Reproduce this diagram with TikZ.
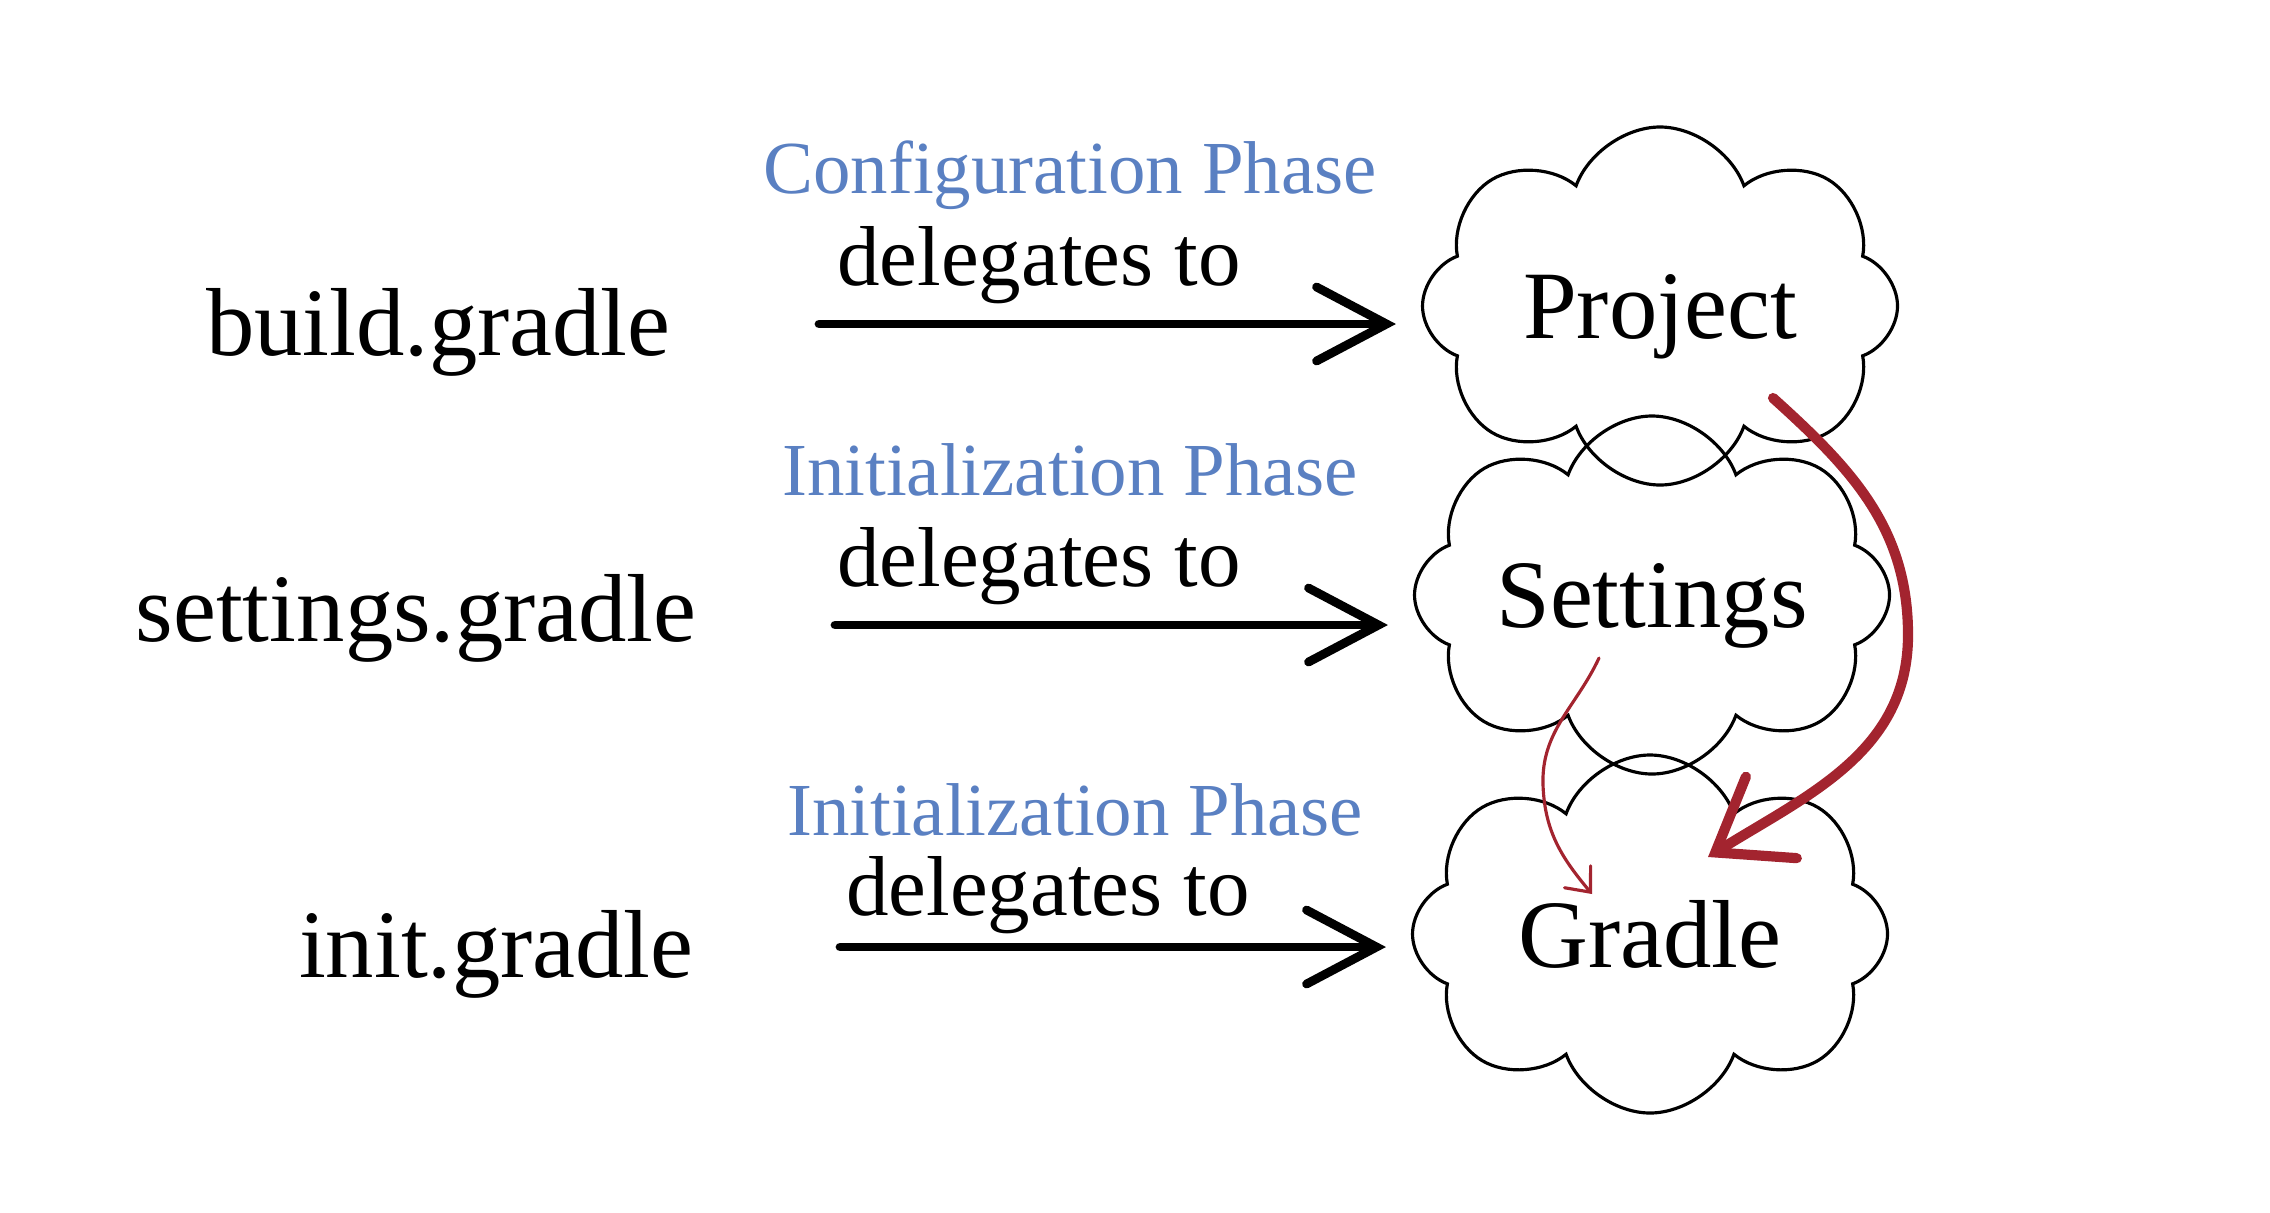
\documentclass[tikz,border=0pt]{standalone}
\usepackage{fontspec}
\setmainfont{Liberation Serif}
\usetikzlibrary{arrows.meta,shapes.symbols}
\definecolor{phaseblue}{HTML}{5A80C2}
\definecolor{linkred}{HTML}{A3242F}
\begin{document}
\begin{tikzpicture}[
  big/.style={font=\fontsize{27.5}{30}\selectfont},
  deleg/.style={font=\fontsize{24.2}{27}\selectfont,anchor=base},
  phase/.style={font=\fontsize{21.3}{24}\selectfont,text=phaseblue,anchor=base},
  obj/.style={big,draw,line width=0.9pt,shape=cloud,cloud puffs=8,cloud puff arc=140,
    cloud ignores aspect,minimum width=4.75cm,minimum height=3.58cm,inner sep=0pt,text depth=0pt},
  blk/.style={line width=2.5pt,line cap=round,shorten >=0.25cm,-{Straight Barb[length=7mm,width=7.4mm,line cap=round]}},
  redthick/.style={linkred,line width=2.9pt,line cap=round,-{Straight Barb[length=6.6mm,width=9.6mm,line cap=round]}},
  redthin/.style={linkred,line width=0.9pt,line cap=round,-{Straight Barb[length=2mm,width=3.4mm,line cap=round]}}]
\useasboundingbox (0,0) rectangle (22.70,-12.12);
% scripts
\node (build) at (6.83,-3.55)[big,anchor=base east]{build.gradle};
\node (sett) at (7.09,-6.41)[big,anchor=base east]{settings.gradle};
\node (init) at (7.06,-9.77)[big,anchor=base east]{init.gradle};
% objects
\node (proj) at (16.60,-3.06)[obj]{Project};
\node (sobj) at (16.52,-5.95)[obj]{Settings};
\node (gobj) at (16.50,-9.34)[obj]{Gradle};
% phases
\node (ph1) at (10.70,-1.93)[phase]{Configuration Phase};
\node (ph2) at (10.70,-4.95)[phase]{Initialization Phase};
\node (ph3) at (10.75,-8.35)[phase]{Initialization Phase};
\node (dl1) at (10.39,-2.85)[deleg]{delegates to};
\node (dl2) at (10.39,-5.86)[deleg]{delegates to};
\node (dl3) at (10.48,-9.15)[deleg]{delegates to};
% arrows
\coordinate (a1) at (8.19,-3.24);
\coordinate (a2) at (8.35,-6.25);
\coordinate (a3) at (8.40,-9.47);
\draw[blk](a1)--(a1 -| proj.west);
\draw[blk](a2)--(a2 -| sobj.west);
\draw[blk](a3)--(a3 -| gobj.west);
\draw[redthick]([shift={(1.13,-0.92)}]proj.center) to[out=-42,in=90] (19.08,-6.35)
  to[out=-90,in=32] ([shift={(0.58,0.77)}]gobj.center);
\draw[redthin]([shift={(-0.53,-0.63)}]sobj.center) to[out=245,in=92] (15.43,-7.85)
  to[out=-88,in=130] ([shift={(-0.58,0.40)}]gobj.center);
\end{tikzpicture}
\end{document}
